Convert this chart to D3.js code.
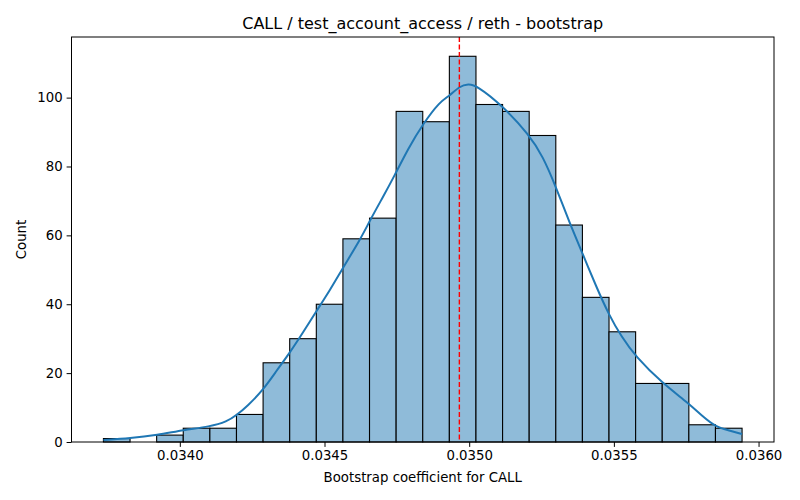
<!DOCTYPE html>
<html>
<head>
<meta charset="utf-8">
<script src="https://cdn.jsdelivr.net/npm/d3@7"></script>
<style>
  body { margin: 0; background: #fff; }
  svg text { font-family: "DejaVu Sans", sans-serif; fill: #000; }
</style>
</head>
<body>
<script>
// Data
const binStart = 0.033736;
const binEnd = 0.035943;
const counts = [1, 0, 2, 4, 4, 8, 23, 30, 40, 59, 65, 96, 93, 112, 98, 96, 89, 63, 42, 32, 17, 17, 5, 4];
const refValue = 0.034966;

// KDE curve (in count units)
const kdeX = [0.033736, 0.033828, 0.033922, 0.034014, 0.034103, 0.034163, 0.034196, 0.034232,
  0.034288, 0.034336, 0.034379, 0.034428, 0.034471, 0.034520, 0.034563, 0.034623, 0.034658,
  0.034703, 0.034738, 0.034791, 0.034839, 0.034899, 0.034931, 0.034966, 0.034997, 0.035026,
  0.035113, 0.035207, 0.035255, 0.035299, 0.035347, 0.035391, 0.035439, 0.035483, 0.035526,
  0.035575, 0.035667, 0.035759, 0.035807, 0.035851, 0.035899, 0.035943];
const kdeY = [0.6, 1.07, 2.0, 3.5, 4.45, 5.9, 7.8, 10.3, 15.1, 20.9, 25.8, 32.1, 37.9, 44.2,
  50.5, 58.7, 64.5, 71.3, 76.7, 85.5, 92.2, 98.9, 100.4, 103.3, 104.0, 103.5, 97.8, 89.2,
  82.9, 74.2, 63.6, 54.9, 45.1, 36.9, 30.6, 24.8, 17.1, 11.2, 7.4, 4.45, 3.3, 2.3];

const xTicks = [0.0340, 0.0345, 0.0350, 0.0355, 0.0360];
const yTicks = [0, 20, 40, 60, 80, 100];

const width = 800;
const height = 500;
const margin = { top: 37, right: 26, bottom: 58, left: 71.5 };
const plotW = width - margin.left - margin.right;
const plotH = height - margin.top - margin.bottom;

const svg = d3.select('body')
.append('svg')
.attr('width', width)
.attr('height', height);

const binWidth = (binEnd - binStart) / counts.length;
const bins = counts.map((c, i) => ({ x0: binStart + i * binWidth, x1: binStart + (i + 1) * binWidth, count: c }));

const pad = (binEnd - binStart) * 0.05;
const xScale = d3.scaleLinear()
.domain([binStart - pad, binEnd + pad])
.range([margin.left, margin.left + plotW]);

const yScale = d3.scaleLinear()
.domain([0, d3.max(counts) * 1.05])
.range([margin.top + plotH, margin.top]);

// Bars
svg.append('g')
.selectAll('rect')
.data(bins.filter(d => d.count > 0))
.enter()
.append('rect')
.attr('x', d => xScale(d.x0))
.attr('y', d => yScale(d.count))
.attr('width', d => xScale(d.x1) - xScale(d.x0))
.attr('height', d => yScale(0) - yScale(d.count))
.attr('fill', '#8fbbd9')
.attr('stroke', '#000')
.attr('stroke-width', 1.1);

// KDE line
const kdeData = kdeX.map((x, i) => [x, kdeY[i]]);
svg.append('path')
.datum(kdeData)
.attr('fill', 'none')
.attr('stroke', '#1f77b4')
.attr('stroke-width', 2)
.attr('d', d3.line()
  .x(d => xScale(d[0]))
  .y(d => yScale(d[1]))
  .curve(d3.curveBasis));

// Reference line
svg.append('line')
.attr('x1', xScale(refValue))
.attr('x2', xScale(refValue))
.attr('y1', margin.top)
.attr('y2', margin.top + plotH)
.attr('stroke', '#ff0000')
.attr('stroke-width', 1.4)
.attr('stroke-dasharray', '5,2.5');

// Axes
const xAxis = d3.axisBottom(xScale)
.tickValues(xTicks)
.tickFormat(d3.format('.4f'))
.tickSize(4.9)
.tickPadding(4);

const yAxis = d3.axisLeft(yScale)
.tickValues(yTicks)
.tickSize(4.9)
.tickPadding(4);

const gx = svg.append('g')
.attr('transform', `translate(0,${ margin.top + plotH })`)
.call(xAxis);

const gy = svg.append('g')
.attr('transform', `translate(${ margin.left },0)`)
.call(yAxis);

[gx, gy].forEach(g => {
  g.select('.domain').remove();
  g.selectAll('line').attr('stroke', '#000').attr('stroke-width', 1);
  g.selectAll('text').attr('font-size', '13.3px').attr('font-family', '"DejaVu Sans", sans-serif');
});

// Frame
svg.append('rect')
.attr('x', margin.left)
.attr('y', margin.top)
.attr('width', plotW)
.attr('height', plotH)
.attr('fill', 'none')
.attr('stroke', '#000')
.attr('stroke-width', 1);

// Labels
svg.append('text')
.attr('x', margin.left + plotW / 2)
.attr('y', 29)
.attr('text-anchor', 'middle')
.attr('font-size', '16px')
.text('CALL / test_account_access / reth - bootstrap');

svg.append('text')
.attr('x', margin.left + plotW / 2)
.attr('y', 482)
.attr('text-anchor', 'middle')
.attr('font-size', '13.3px')
.text('Bootstrap coefficient for CALL');

svg.append('text')
.attr('transform', `translate(26,${ margin.top + plotH / 2 }) rotate(-90)`)
.attr('text-anchor', 'middle')
.attr('font-size', '13.3px')
.text('Count');
</script>
</body>
</html>
